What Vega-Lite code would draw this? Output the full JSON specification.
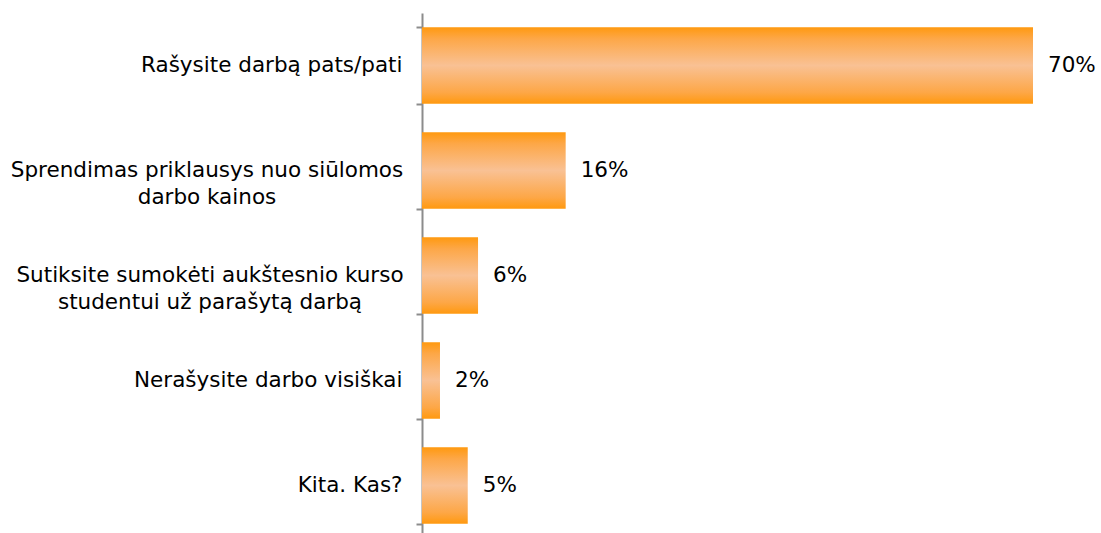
{
  "$schema": "https://vega.github.io/schema/vega-lite/v6.json",
  "width": 611,
  "height": 525,
  "autosize": "none",
  "padding": {"left": 422, "top": 13, "right": 68, "bottom": 0},
  "background": "white",
  "config": {"view": {"stroke": null}},
  "data": {
    "values": [
      {"category": "Rašysite darbą pats/pati", "share": 0.70},
      {"category": "Sprendimas priklausys nuo siūlomos darbo kainos", "share": 0.1646},
      {"category": "Sutiksite sumokėti aukštesnio kurso studentui už parašytą darbą", "share": 0.0642},
      {"category": "Nerašysite darbo visiškai", "share": 0.0206},
      {"category": "Kita. Kas?", "share": 0.0524}
    ]
  },
  "encoding": {
    "y": {
      "field": "category",
      "type": "nominal",
      "sort": null,
      "scale": {"paddingInner": 0.27, "paddingOuter": 0.135},
      "axis": {
        "title": null,
        "domain": true,
        "domainColor": "#8c8c8c",
        "domainWidth": 2,
        "ticks": true,
        "tickColor": "#8c8c8c",
        "tickWidth": 2,
        "tickSize": 6,
        "tickBand": "extent",
        "labelFont": "DejaVu Sans",
        "labelFontSize": 21.5,
        "labelColor": "black",
        "labelLimit": 600,
        "labelLineHeight": 27,
        "labelBaseline": "middle",
        "labelExpr": "datum.value === 'Sprendimas priklausys nuo siūlomos darbo kainos' ? ['Sprendimas priklausys nuo siūlomos', 'darbo kainos'] : datum.value === 'Sutiksite sumokėti aukštesnio kurso studentui už parašytą darbą' ? ['Sutiksite sumokėti aukštesnio kurso', 'studentui už parašytą darbą'] : datum.label",
        "labelAlign": {
          "condition": {"test": "datum.value === 'Sprendimas priklausys nuo siūlomos darbo kainos' || datum.value === 'Sutiksite sumokėti aukštesnio kurso studentui už parašytą darbą'", "value": "center"},
          "value": "right"
        },
        "labelPadding": {
          "condition": [
            {"test": "datum.value === 'Sprendimas priklausys nuo siūlomos darbo kainos'", "value": 209.5},
            {"test": "datum.value === 'Sutiksite sumokėti aukštesnio kurso studentui už parašytą darbą'", "value": 206.5}
          ],
          "value": 14
        }
      }
    },
    "x": {
      "field": "share",
      "type": "quantitative",
      "scale": {"domain": [0, 0.7], "nice": false, "zero": true},
      "axis": null
    }
  },
  "layer": [
    {
      "mark": {
        "type": "bar",
        "color": {
          "gradient": "linear",
          "x1": 0, "y1": 0, "x2": 0, "y2": 1,
          "stops": [
            {"offset": 0, "color": "#FF990F"},
            {"offset": 0.15, "color": "#FDA747"},
            {"offset": 0.5, "color": "#F9C194"},
            {"offset": 0.85, "color": "#FDA747"},
            {"offset": 1, "color": "#FF990F"}
          ]
        }
      }
    },
    {
      "mark": {
        "type": "text",
        "align": "left",
        "baseline": "middle",
        "dx": 15,
        "font": "DejaVu Sans",
        "fontSize": 21.5,
        "color": "black"
      },
      "encoding": {
        "text": {"field": "share", "type": "quantitative", "format": ".0%"}
      }
    }
  ]
}
